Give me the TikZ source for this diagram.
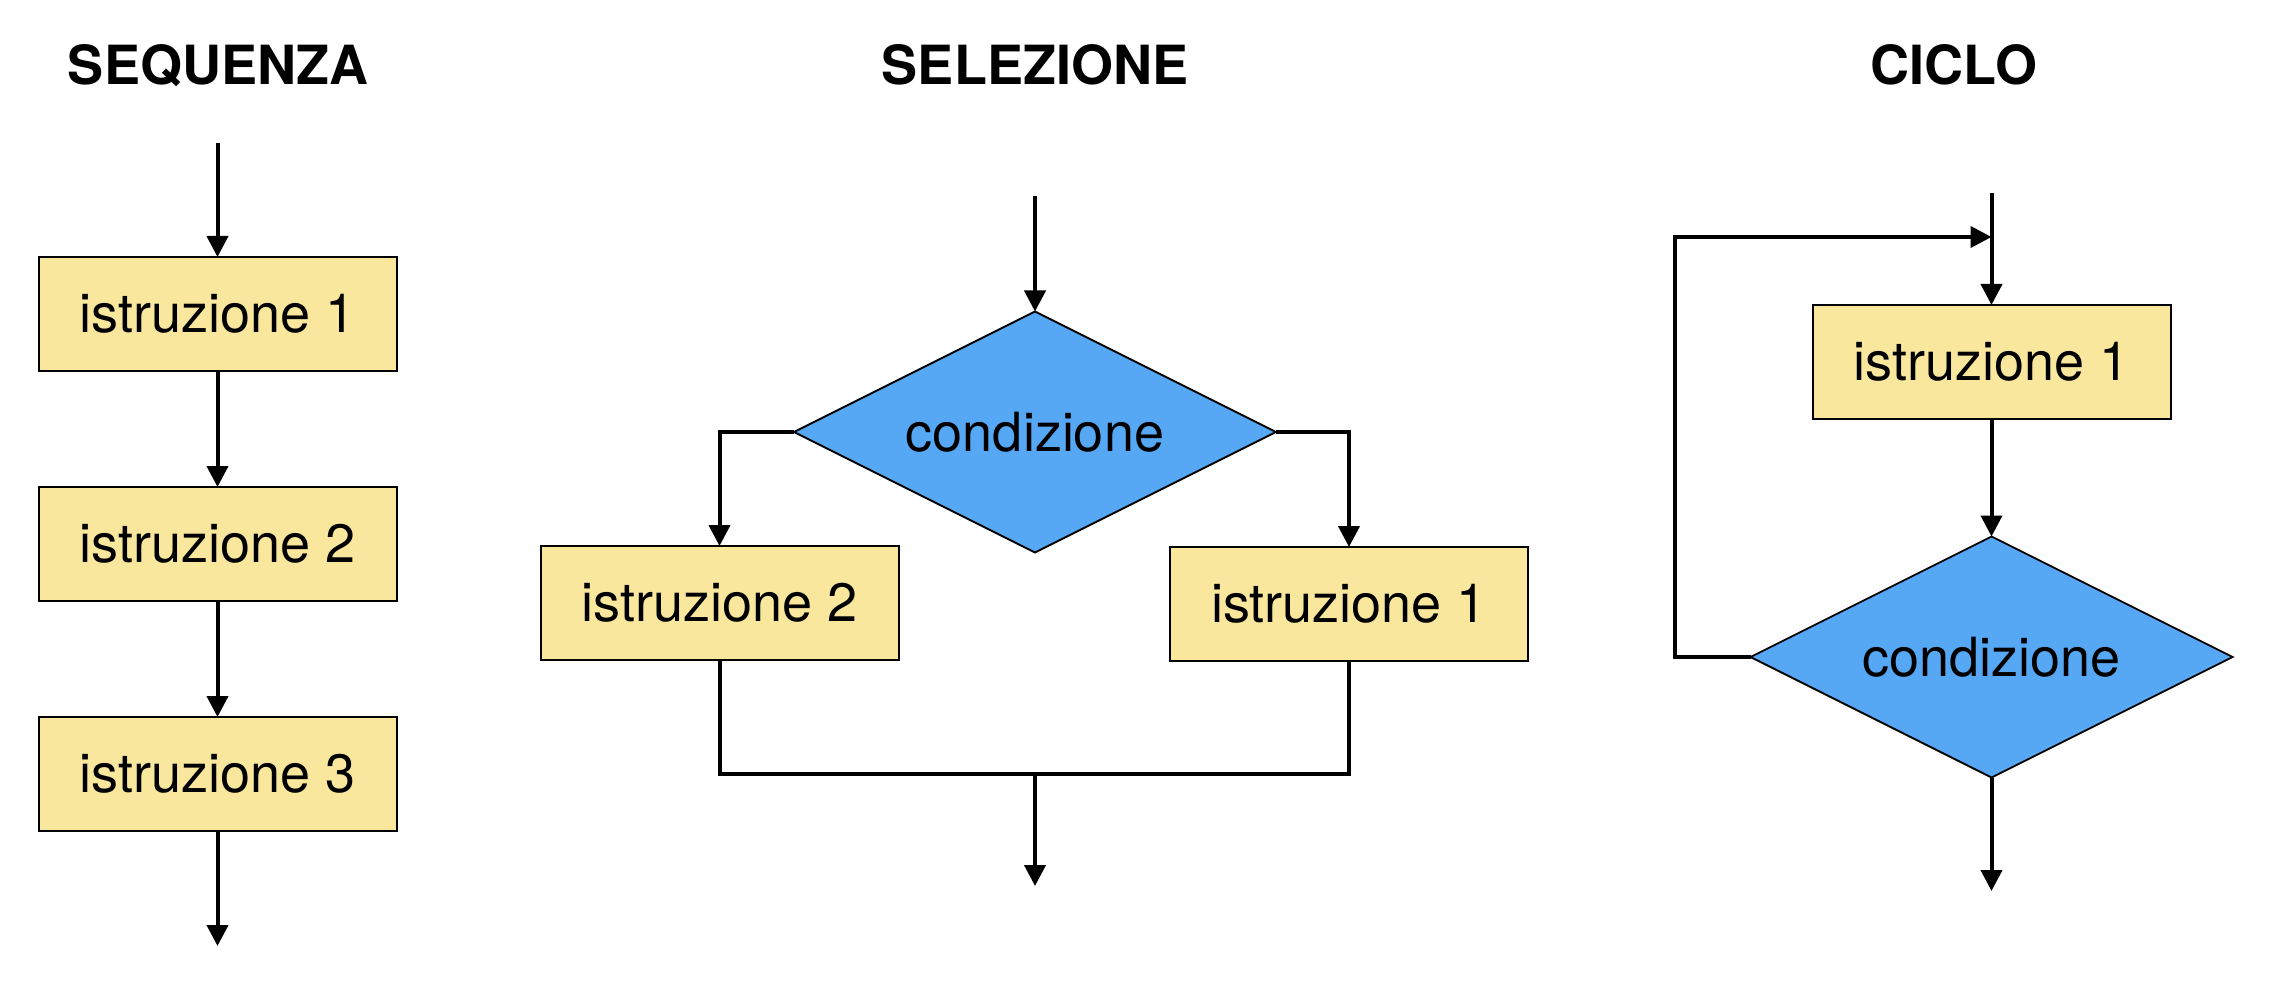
\documentclass[tikz,border=0pt]{standalone}
\usepackage{fontspec}
\setmainfont{TeX Gyre Heros}
\usetikzlibrary{arrows.meta,shapes.geometric}
\definecolor{boxyellow}{RGB}{249,231,158}
\definecolor{diablue}{RGB}{86,168,245}
\begin{document}
\begin{tikzpicture}[x=0.5pt,y=-0.5pt,
  instr/.style={draw=black, line width=1pt, fill=boxyellow, minimum width=179pt,
    minimum height=57pt, inner sep=0pt, outer sep=0pt, font=\fontsize{27}{32}\selectfont},
  cond/.style={diamond, aspect=2, draw=black, line width=0.9pt, fill=diablue, minimum width=241pt,
    minimum height=120.5pt, inner sep=0pt, outer sep=0pt, font=\fontsize{27}{32}\selectfont},
  title/.style={anchor=base, font=\fontsize{27}{32}\selectfont\bfseries},
  conn/.style={line width=2pt},
  arr/.style={conn, -{Triangle[length=10.5pt,width=10.5pt]}}]
\useasboundingbox (0,0) rectangle (2272,984);

% titles
\node[title] (t1) at (218,85) {SEQUENZA};
\node[title] (t2) at (1035,85) {SELEZIONE};
\node[title] (t3) at (1954,85) {CICLO};

% SEQUENZA
\coordinate (sin) at (217.5,143);
\node[instr] (s1) at (217.5,314) {istruzione 1};
\node[instr] (s2) at (217.5,544) {istruzione 2};
\node[instr] (s3) at (217.5,774) {istruzione 3};
\coordinate (sout) at (217.5,946);
\draw[arr] (sin) -- (s1.north);
\draw[arr] (s1.south) -- (s2.north);
\draw[arr] (s2.south) -- (s3.north);
\draw[arr] (s3.south) -- (sout);

% SELEZIONE
\coordinate (din) at (1035,196);
\node[cond] (d) at (1035,432) {condizione};
\node[instr] (l) at (719.5,603) {istruzione 2};
\node[instr] (r) at (1349,604) {istruzione 1};
\coordinate (m) at (1035,774);
\coordinate (dout) at (1035,886);
\draw[arr] (din) -- (d.north);
\draw[arr] (d.west) -| (l.north);
\draw[arr] (d.east) -| (r.north);
\draw[conn] (l.south) -- (l.south |- m) -- (r.south |- m) -- (r.south);
\draw[arr] (m) -- (dout);

% CICLO
\coordinate (cin) at (1991.5,193);
\coordinate (j) at (1991.5,237);
\coordinate (lx) at (1675,237);
\node[instr] (c1) at (1991.5,362) {istruzione 1};
\node[cond] (c2) at (1991.5,657) {condizione};
\coordinate (cout) at (1991.5,891);
\draw[arr] (cin) -- (c1.north);
\draw[arr] (c1.south) -- (c2.north);
\draw[arr] (c2.west) -| (lx) -- (j);
\draw[arr] (c2.south) -- (cout);
\end{tikzpicture}
\end{document}
